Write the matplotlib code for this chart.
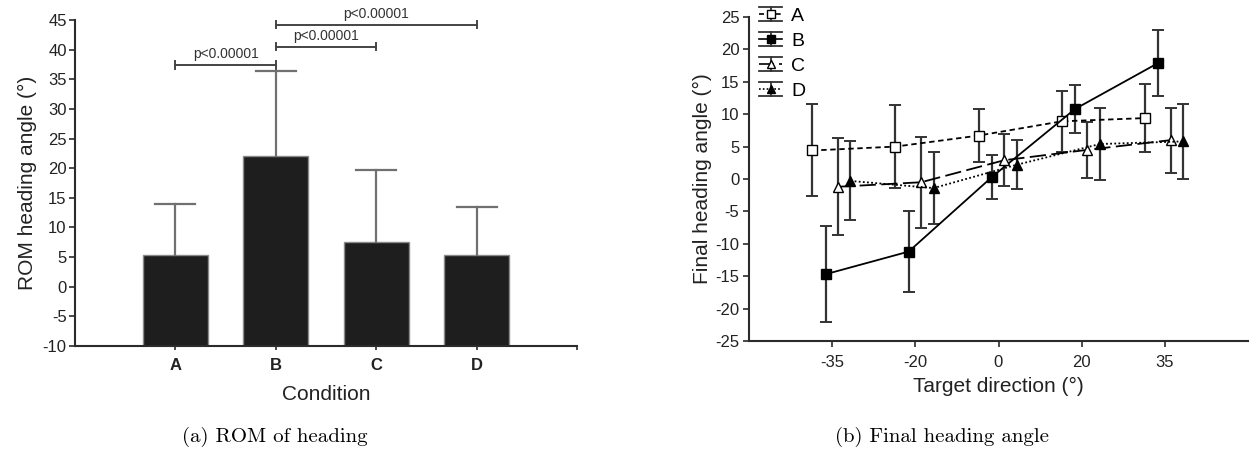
import matplotlib
matplotlib.use("Agg")
import matplotlib.pyplot as plt
from matplotlib.legend_handler import HandlerBase
from matplotlib.lines import Line2D
import numpy as np

plt.rcParams['font.family'] = ['Liberation Sans', 'DejaVu Sans']
plt.rcParams['axes.unicode_minus'] = False

# ---- Panel (a) data ----
conditions = ['A', 'B', 'C', 'D']
rom_mean = [5.4, 22.0, 7.5, 5.3]
rom_sd = [8.6, 14.4, 12.2, 8.2]
sig_pairs = [(0, 1), (1, 2), (1, 3)]
sig_levels = [37.4, 40.5, 44.2]
sig_text = ['p<0.00001', 'p<0.00001', 'p<0.00001']

# ---- Panel (b) data ----
target_labels = ['-35', '-20', '0', '20', '35']
series_names = ['A', 'B', 'C', 'D']
mean_A = [4.4, 5.0, 6.7, 8.9, 9.4]
err_A = [7.1, 6.4, 4.1, 4.7, 5.3]
mean_B = [-14.7, -11.2, 0.3, 10.8, 17.9]
err_B = [7.4, 6.3, 3.4, 3.7, 5.1]
mean_C = [-1.2, -0.5, 2.9, 4.5, 6.0]
err_C = [7.5, 7.0, 4.0, 4.3, 5.0]
mean_D = [-0.3, -1.4, 2.2, 5.4, 5.8]
err_D = [6.1, 5.6, 3.8, 5.5, 5.8]

fig = plt.figure(figsize=(12.58, 4.53), dpi=100)

axis_col = '#2b2b2b'
text_col = '#222222'

# ================= Panel (a) =================
ax1 = fig.add_axes([75/1258, (453-346)/453, (577-75)/1258, (346-20)/453])
x = np.arange(len(conditions))
ymin1 = -10
ax1.bar(x, np.array(rom_mean) - ymin1, width=0.65, bottom=ymin1, color='#1e1e1e',
        edgecolor='#8a8a8a', linewidth=1.0, zorder=2)
for xi, m, s in zip(x, rom_mean, rom_sd):
    ax1.plot([xi, xi], [m, m + s], color='#707070', lw=1.6, zorder=3)
    ax1.plot([xi - 0.2, xi + 0.2], [m + s, m + s], color='#707070', lw=1.6, zorder=3)

ax1.set_ylim(ymin1, 45)
ax1.set_xlim(-1, 4)
ax1.set_yticks(np.arange(-10, 46, 5))
ax1.set_xticks([0, 1, 2, 3, 4])
ax1.set_xticklabels(conditions + [''], fontweight='bold', fontsize=12)
ax1.tick_params(axis='y', labelsize=12, direction='out', length=4, width=1.2, color=axis_col,
                labelcolor=text_col, pad=2)
ax1.tick_params(axis='x', direction='out', length=3, width=1.2, color=axis_col,
                labelcolor=text_col, pad=6)
for side in ['top', 'right']:
    ax1.spines[side].set_visible(False)
for side in ['left', 'bottom']:
    ax1.spines[side].set_color(axis_col)
    ax1.spines[side].set_linewidth(1.5)
ax1.set_ylabel('ROM heading angle (°)', fontsize=15, color=text_col, labelpad=4)
ax1.set_xlabel('Condition', fontsize=15, color=text_col, labelpad=8)

for (i, j), lvl, txt in zip(sig_pairs, sig_levels, sig_text):
    ax1.plot([i, j], [lvl, lvl], color='#444444', lw=1.4, clip_on=False, zorder=4)
    ax1.plot([i, i], [lvl - 0.6, lvl + 0.6], color='#444444', lw=1.4, clip_on=False)
    ax1.plot([j, j], [lvl - 0.6, lvl + 0.6], color='#444444', lw=1.4, clip_on=False)
    ax1.text((i + j) / 2, lvl + 0.7, txt, ha='center', va='bottom', fontsize=10,
             color='#333333', clip_on=False)

# ================= Panel (b) =================
ax2 = fig.add_axes([749/1258, (453-341)/453, (1248-749)/1258, (341-17)/453])
xt = np.arange(len(target_labels))
means = [mean_A, mean_B, mean_C, mean_D]
errs = [err_A, err_B, err_C, err_D]
offsets = [-0.24, -0.08, 0.07, 0.22]
markers = ['s', 's', '^', '^']
faces = ['white', 'black', 'white', 'black']
lstyles = [(0, (3, 2)), '-', (0, (9, 3)), (0, (1, 1.3))]
for name, m, e, off, mk, fc, ls in zip(series_names, means, errs, offsets, markers,
                                       faces, lstyles):
    ax2.errorbar(xt + off, m, yerr=e, fmt=mk, color='black', markerfacecolor=fc,
                 markeredgecolor='black', markersize=7,
                 ecolor='#333333', elinewidth=1.6, capsize=4, capthick=1.4,
                 linestyle=ls, linewidth=1.3, zorder=3)

ax2.set_xlim(-1, 5)
ax2.set_ylim(-25, 25)
ax2.set_yticks(np.arange(-25, 26, 5))
ax2.set_xticks(xt)
ax2.set_xticklabels(target_labels)
ax2.tick_params(axis='both', labelsize=12, direction='out', length=4, width=1.2,
                color=axis_col, labelcolor=text_col, pad=3)
ax2.tick_params(axis='x', pad=6)
for side in ['top', 'right']:
    ax2.spines[side].set_visible(False)
for side in ['left', 'bottom']:
    ax2.spines[side].set_color(axis_col)
    ax2.spines[side].set_linewidth(1.5)
ax2.set_ylabel('Final heading angle (°)', fontsize=15, color=text_col, labelpad=2)
ax2.set_xlabel('Target direction (°)', fontsize=15, color=text_col, labelpad=5)


class ErrHandle(HandlerBase):
    def __init__(self, marker, fc, ls, **kw):
        super().__init__(**kw)
        self.marker, self.fc, self.ls = marker, fc, ls

    def create_artists(self, legend, orig_handle, xdescent, ydescent, width, height,
                       fontsize, trans):
        x0, x1 = -xdescent, width - xdescent
        y0, y1 = -ydescent, height - ydescent
        cx, cy = (x0 + x1) / 2, (y0 + y1) / 2
        arts = [Line2D([x0, x1], [y0, y0], color='#333333', lw=1.3),
                Line2D([x0, x1], [y1, y1], color='#333333', lw=1.3),
                Line2D([x0, x1], [cy, cy], color='black', lw=1.2, linestyle=self.ls),
                Line2D([cx, cx], [y0, y1], color='#333333', lw=1.3),
                Line2D([cx], [cy], marker=self.marker, markerfacecolor=self.fc,
                       markeredgecolor='black', markersize=6, linestyle='none')]
        for a in arts:
            a.set_transform(trans)
        return arts


proxies = [Line2D([], []) for _ in series_names]
hmap = {p: ErrHandle(mk, fc, ls) for p, mk, fc, ls in zip(proxies, markers, faces, lstyles)}
ax2.legend(proxies, series_names, handler_map=hmap, loc='upper left',
           bbox_to_anchor=(0.02, 1.03), frameon=False, fontsize=14,
           handlelength=1.2, handleheight=0.7, handletextpad=0.45, labelspacing=0.38,
           borderaxespad=0.0, borderpad=0.0)

# captions
fig.text(275/1258, 1 - 437/453, '(a) ROM of heading', ha='center', va='center',
         fontsize=15, family='cmr10')
fig.text(942/1258, 1 - 437/453, '(b) Final heading angle', ha='center', va='center',
         fontsize=15, family='cmr10')

fig.savefig('out.png', dpi=100)
